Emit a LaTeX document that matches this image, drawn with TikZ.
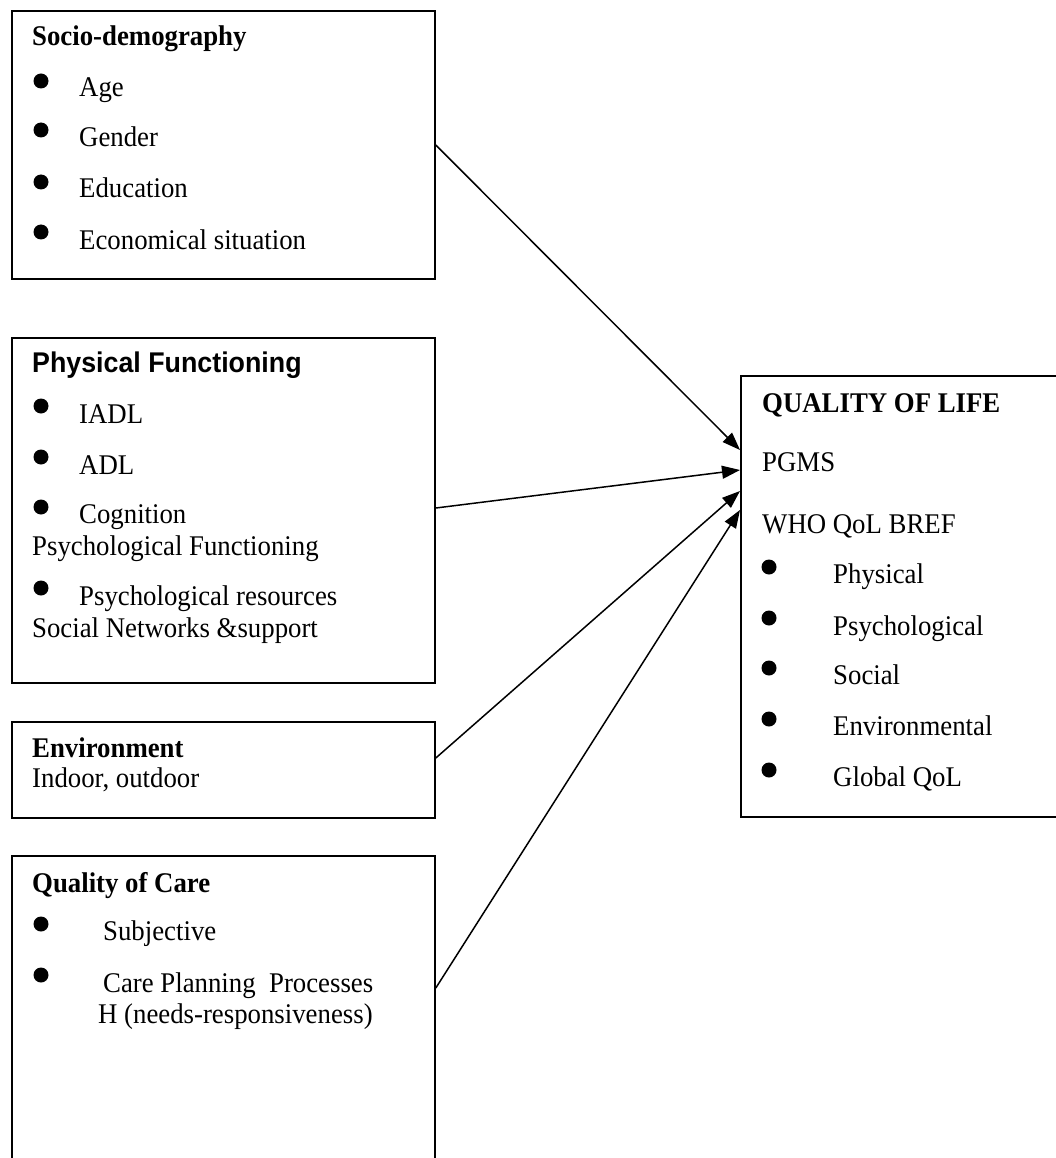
\documentclass[tikz,border=0pt]{standalone}
\usepackage{fontspec}
\setmainfont{Liberation Serif}[FakeStretch=0.94]
\newfontfamily\headsans{Liberation Sans}[FakeStretch=0.94]
\usetikzlibrary{arrows.meta,calc}

\begin{document}
\begin{tikzpicture}[x=1pt,y=-1pt,
  frame/.style={draw, line width=1.8pt, inner sep=0pt, anchor=north west},
  txt/.style={anchor=base west, inner sep=0pt, font=\fontsize{28.5}{32}\selectfont},
  head/.style={txt, font=\fontsize{28.5}{32}\selectfont\bfseries},
  sanshead/.style={txt, font=\fontsize{28.5}{32}\selectfont\headsans\bfseries},
  arr/.style={line width=1.5pt, -{Triangle[length=18pt,width=13pt]}},
  ]
\useasboundingbox (0,0) rectangle (1055,1158);

% boxes
\node[frame, minimum width=423pt, minimum height=268pt] (socio) at (11,10) {};
\node[frame, minimum width=423pt, minimum height=345pt] (phys) at (11,337) {};
\node[frame, minimum width=423pt, minimum height=96pt] (env) at (11,721) {};
\node[frame, minimum width=423pt, minimum height=320pt] (care) at (11,855) {};
\node[frame, minimum width=330pt, minimum height=441pt] (qol) at (740,375) {};

% Socio-demography
\node[head] (sochead) at (32,46) {Socio-demography};
\node[txt] (age) at (79,97) {Age};
\node[txt] (gender) at (79,147) {Gender};
\node[txt] (educ) at (79,198) {Education};
\node[txt] (econ) at (79,249) {Economical situation};
\foreach \yy in {81,130,182,232} \fill (41,\yy) circle (7.5pt);

% Physical functioning
\node[sanshead] (physhead) at (32,372) {Physical Functioning};
\node[txt] (iadl) at (79,423) {IADL};
\node[txt] (adl) at (79,474) {ADL};
\node[txt] (cogn) at (79,523) {Cognition};
\node[txt] (psyfun) at (32,555) {Psychological Functioning};
\node[txt] (psyres) at (79,605) {Psychological resources};
\node[txt] (social) at (32,637) {Social Networks \&support};
\foreach \yy in {406,457,507,588} \fill (41,\yy) circle (7.5pt);

% Environment
\node[head] (envhead) at (32,757) {Environment};
\node[txt] (indoor) at (32,787) {Indoor, outdoor};

% Quality of care
\node[head] (carehead) at (32,892) {Quality of Care};
\node[txt] (subj) at (103,940) {Subjective};
\node[txt] (plan) at (103,992) {Care Planning~~Processes};
\node[txt] (needs) at (98,1023) {H (needs-responsiveness)};
\foreach \yy in {924,975} \fill (41,\yy) circle (7.5pt);

% Quality of life
\node[head] (qolhead) at (762,412) {QUALITY OF LIFE};
\node[txt] (pgms) at (762,471) {PGMS};
\node[txt] (who) at (762,533) {WHO QoL BREF};
\node[txt] (qphys) at (833,583) {Physical};
\node[txt] (qpsy) at (833,635) {Psychological};
\node[txt] (qsoc) at (833,684) {Social};
\node[txt] (qenv) at (833,735) {Environmental};
\node[txt] (qglob) at (833,786) {Global QoL};
\foreach \yy in {567,618,668,719,770} \fill (769,\yy) circle (7.5pt);

% connectors
\draw[arr] ([yshift=-135pt]socio.north east) -- ([yshift=-75pt]qol.north west);
\draw[arr] ([yshift=-171pt]phys.north east) -- ([yshift=-95pt]qol.north west);
\draw[arr] ([yshift=-37pt]env.north east) -- ([yshift=-116pt]qol.north west);
\draw[arr] ([yshift=-133pt]care.north east) -- ([yshift=-135pt]qol.north west);
\end{tikzpicture}
\end{document}
